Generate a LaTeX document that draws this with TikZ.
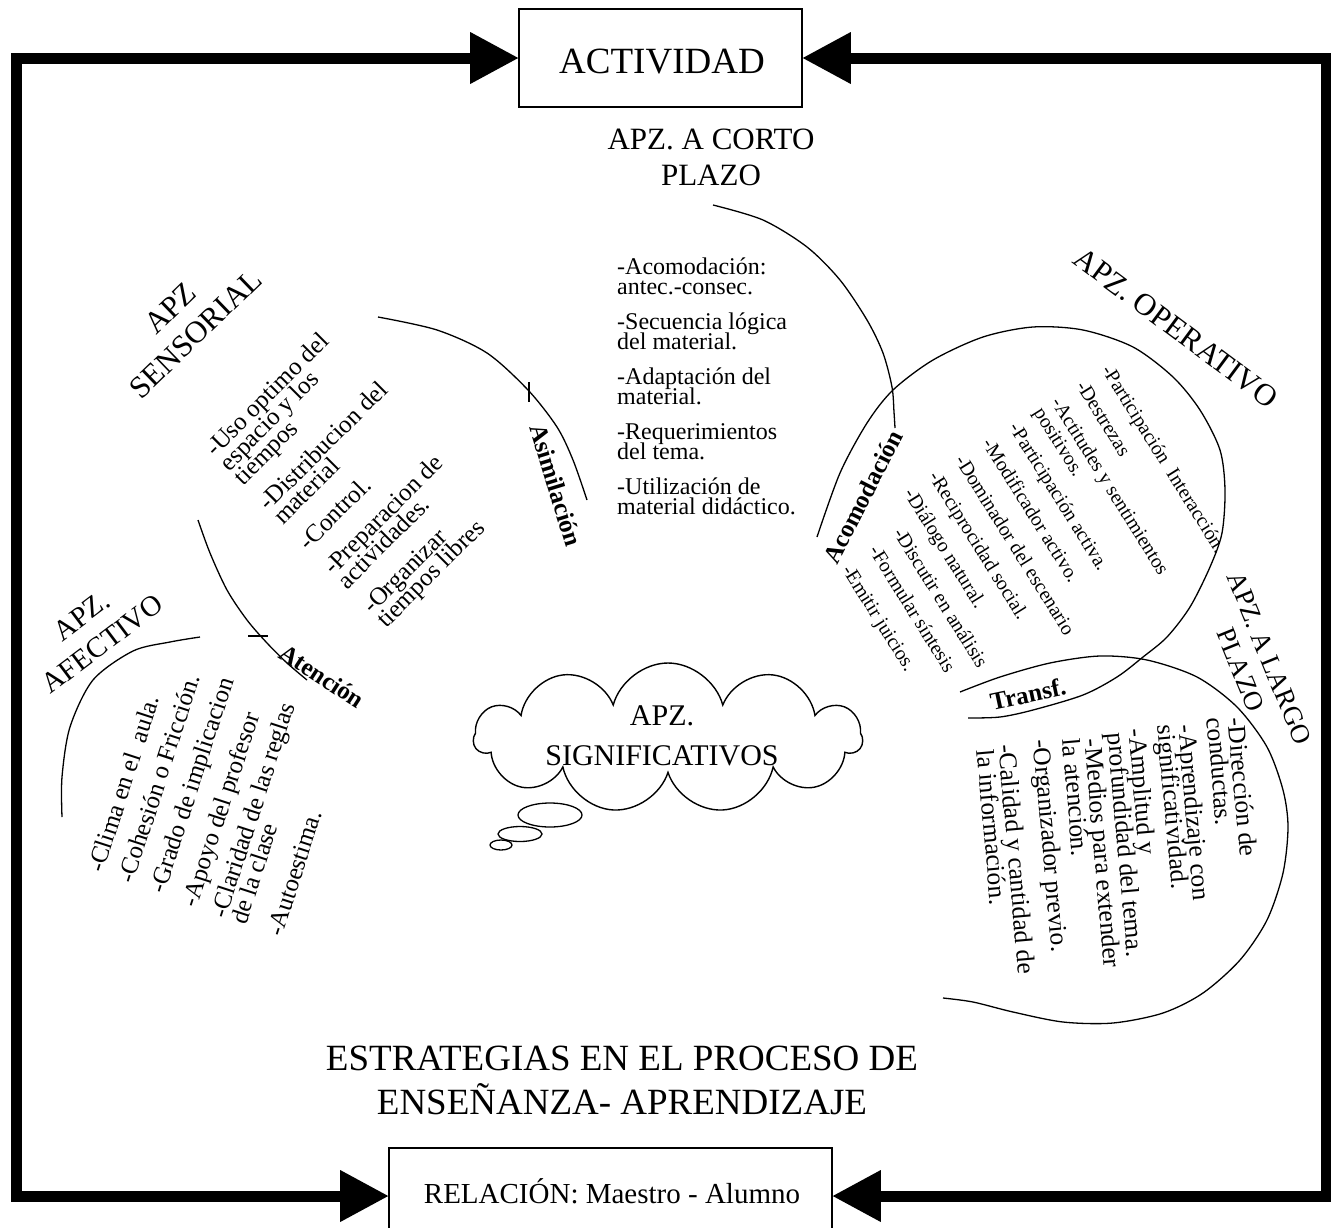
\documentclass[tikz,border=0pt]{standalone}
\usepackage{fontspec}
\setmainfont{Liberation Serif}
\usetikzlibrary{arrows.meta,shapes.symbols}
\begin{document}
\begin{tikzpicture}[x=1pt,y=-1pt,
  frameline/.style={line width=11pt,line cap=rect},
  bigarrow/.style={line width=11pt,-{Triangle[length=48pt,width=52pt,line width=0pt]}},
  boxnode/.style={draw,line width=1.6pt,inner sep=0pt},
  arcline/.style={line width=1.3pt},
  title/.style={align=center,inner sep=0pt,font=\fontsize{31}{36}\selectfont},
  lst/.style={anchor=base west,inner sep=0pt},
  lbl/.style={inner sep=0pt,font=\bfseries\fontsize{25}{25}\selectfont}]
\useasboundingbox (0,0) rectangle (1331,1227);
\clip (0,0) rectangle (1331,1227);

% boxes
\node[boxnode,minimum width=283,minimum height=98] (act) at (660.5,58) {};
\node[inner sep=0pt,font=\fontsize{37}{40}\selectfont] (acttext) at (662,62) {ACTIVIDAD};
\node[boxnode,minimum width=443,minimum height=98] (rel) at (610.5,1197) {};
\node[inner sep=0pt,font=\fontsize{29}{32}\selectfont] (reltext) at (612,1191) {RELACIÓN: Maestro - Alumno};

% frame
\coordinate (tl) at (16,58);
\coordinate (bl) at (16,1196);
\coordinate (tr) at (1326,58);
\coordinate (br) at (1326,1196);
\draw[frameline] (tl) -- (bl);
\draw[frameline] (tr) -- (br);
\draw[bigarrow] (tl) -- (act.west);
\draw[bigarrow] (tr) -- (act.east);
\draw[bigarrow] (bl) -- (bl -| rel.west);
\draw[bigarrow] (br) -- (br -| rel.east);

% titles
\node[title] (tcorto) at (711,157) {APZ. A CORTO\\PLAZO};
\node[title,rotate=44] (tsens) at (183,321) {APZ\\SENSORIAL};
\node[title,rotate=37,font=\fontsize{29}{35}\selectfont] (tafec) at (92,630) {APZ.\\AFECTIVO};
\node[title,rotate=-36.6] (toper) at (1176,328) {APZ. OPERATIVO};
\node[title,rotate=-68,font=\fontsize{27}{31}\selectfont] (tlargo) at (1255,664) {APZ. A LARGO\\PLAZO};
\node[title,font=\fontsize{37}{44}\selectfont] (testr) at (622,1080) {ESTRATEGIAS EN EL PROCESO DE\\ENSEÑANZA- APRENDIZAJE};

% arcs
\draw[arcline] plot[smooth] coordinates {(378,317) (437,330) (487,353) (528,390) (557,427) (573,460) (587,500)};
\draw[arcline] (529,382) -- (529,402);
\draw[arcline] plot[smooth] coordinates {(198,520) (210,553) (227,590) (247,620) (267,643) (287,663) (307,680)};
\draw[arcline] (248,636) -- (268,636);
\draw[arcline] plot[smooth] coordinates {(200,637) (170,642) (133,651) (93,680) (70,727) (62,777) (62,817)};
\draw[arcline] plot[smooth] coordinates {(713,205) (763,220) (807,247) (840,280) (867,320) (883,353) (892,387) (894,412) (895,428)};
\draw[arcline] plot[smooth] coordinates {(817,537) (840,473) (867,423) (893,390) (933,360) (983,337) (1033,327) (1083,330) (1133,347) (1173,377) (1200,410) (1220,450) (1225,490) (1222,533) (1210,567) (1190,607) (1167,637) (1143,657) (1117,677) (1083,695) (1033,710) (1000,717) (968,718)};
\draw[arcline] plot[smooth] coordinates {(960,692) (1000,677) (1050,663) (1100,656) (1147,660) (1197,677) (1237,707) (1267,747) (1283,790) (1288,827) (1283,873) (1267,920) (1240,960) (1203,993) (1163,1013) (1113,1023) (1063,1022) (1013,1012) (973,1002) (943,998)};

% bold labels
\node[lbl,rotate=-73] (lasim) at (556,485) {Asimilación};
\node[lbl,rotate=63] (lacom) at (863,497) {Acomodación};
\node[lbl,rotate=-33] (laten) at (322,676) {Atención};
\node[lbl,rotate=12] (ltransf) at (1028,694) {Transf.};

% cloud
\draw[arcline] (550,815) ellipse [x radius=32,y radius=12];
\draw[arcline] (520,834) ellipse [x radius=22,y radius=7.5];
\draw[arcline] (501,845) ellipse [x radius=11,y radius=5];
\node[cloud,draw,fill=white,line width=1.4pt,cloud puffs=11,aspect=2.55,minimum width=388,minimum height=150,inner sep=0pt] (cld) at (668,738) {};
\node[title,font=\fontsize{30}{40}\selectfont] (tsig) at (662,736) {APZ.\\SIGNIFICATIVOS};

% corto plazo list
\begin{scope}[font=\fontsize{24}{24}\selectfont]
\node[lst] (c1) at (617,274) {-Acomodación:};
\node[lst] (c2) at (617,294) {antec.-consec.};
\node[lst] (c3) at (617,329) {-Secuencia lógica};
\node[lst] (c4) at (617,349) {del material.};
\node[lst] (c5) at (617,384) {-Adaptación del};
\node[lst] (c6) at (617,404) {material.};
\node[lst] (c7) at (617,439) {-Requerimientos};
\node[lst] (c8) at (617,459) {del tema.};
\node[lst] (c9) at (617,494) {-Utilización de};
\node[lst] (c10) at (617,514) {material didáctico.};
\end{scope}

% sensorial list
\begin{scope}[shift={(215,458)},rotate=45,transform shape,font=\fontsize{25}{25}\selectfont]
\node[lst] (s1) at (0,0) {-Uso optimo del};
\node[lst] (s2) at (0,20) {espacio y los};
\node[lst] (s3) at (0,40) {tiempos};
\node[lst] (s4) at (0,76) {-Distribucion del};
\node[lst] (s5) at (0,96) {material};
\node[lst] (s6) at (0,132) {-Control.};
\node[lst] (s7) at (0,167) {-Preparacion de};
\node[lst] (s8) at (0,187) {actividades.};
\node[lst] (s9) at (0,222) {-Organizar};
\node[lst] (s10) at (0,242) {tiempos libres};
\end{scope}

% afectivo list
\begin{scope}[shift={(103,874)},rotate=72,transform shape,font=\fontsize{25}{25}\selectfont]
\node[lst] (a1) at (0,0) {-Clima en el~ aula.};
\node[lst] (a2) at (-1,32) {-Cohesión o Fricción.};
\node[lst] (a3) at (-1,65) {-Grado de implicacion};
\node[lst] (a4) at (-4,100) {-Apoyo del profesor};
\node[lst] (a5) at (-5,131) {-Claridad de las reglas};
\node[lst] (a6) at (-5,152) {de la clase};
\node[lst] (a7) at (-5,190) {-Autoestima.};
\end{scope}

% operativo list
\begin{scope}[shift={(1101,370)},rotate=-58,transform shape,font=\fontsize{20}{20}\selectfont]
\node[lst] (o1) at (0,0) {-Participación~ Interacción.};
\node[lst] (o2) at (0,30) {-Destrezas};
\node[lst] (o3) at (1,60) {-Actitudes y sentimientos};
\node[lst] (o4) at (0,80) {positivos.};
\node[lst] (o5) at (0,109) {-Participación activa.};
\node[lst] (o6) at (-1,140) {-Modificador activo.};
\node[lst] (o7) at (-1,172) {-Dominador del escenario};
\node[lst] (o8) at (-1,203) {-Reciprocidad social.};
\node[lst] (o9) at (0,233) {-Diálogo natural.};
\node[lst] (o10) at (28,263) {-Discutir en análisis};
\node[lst] (o11) at (30,293) {-Formular síntesis};
\node[lst] (o12) at (32,326) {-Emitir juicios.};
\end{scope}

% largo plazo list
\begin{scope}[shift={(1228,718)},rotate=-85,transform shape,font=\fontsize{25.5}{25.5}\selectfont]
\node[lst] (g1) at (0,0) {-Dirección de};
\node[lst] (g2) at (-2,21) {conductas.};
\node[lst] (g3) at (3,50) {-Aprendizaje con};
\node[lst] (g4) at (1,71) {significatividad.};
\node[lst] (g5) at (3,100) {-Amplitud y};
\node[lst] (g6) at (5,121) {profundidad del tema.};
\node[lst] (g7) at (9,145) {-Medios para extender};
\node[lst] (g8) at (7,167) {la atención.};
\node[lst] (g9) at (5,196) {-Organizador previo.};
\node[lst] (g10) at (7,231) {-Calidad y cantidad de};
\node[lst] (g11) at (10,253) {la información.};
\end{scope}
\end{tikzpicture}
\end{document}
